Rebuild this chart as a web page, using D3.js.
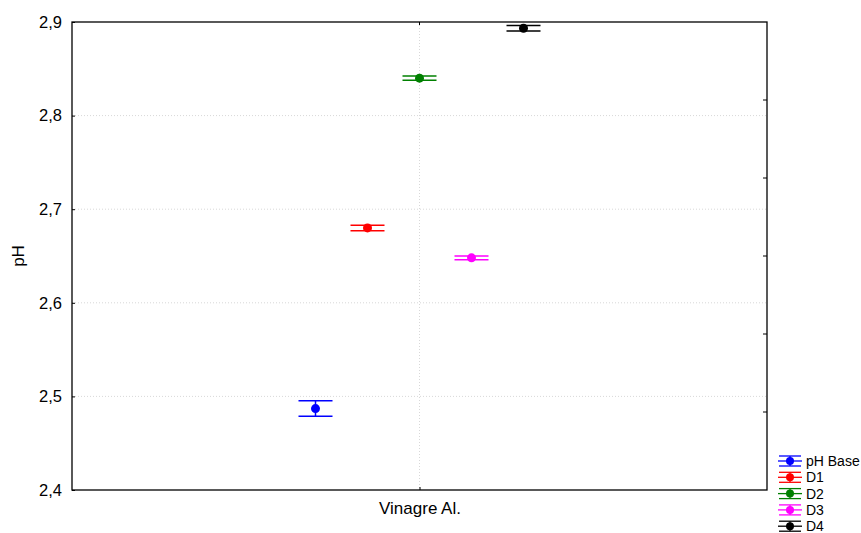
<!DOCTYPE html>
<html>
<head>
<meta charset="utf-8">
<script src="https://cdn.jsdelivr.net/npm/d3@7"></script>
<style>
  body { margin: 0; background: #fff; }
  text { font-family: Arial, "Liberation Sans", sans-serif; }
</style>
</head>
<body>
<script>
// data
var category = ["Vinagre Al."];
var series = ["pH Base", "D1", "D2", "D3", "D4"];
var means = [2.487, 2.680, 2.840, 2.648, 2.8933];
var errs = [0.0083, 0.0029, 0.0023, 0.0021, 0.0029];
var colors = ["#0000ff", "#ff0000", "#008000", "#ff00ff", "#000000"];
var yTicks = [2.4, 2.5, 2.6, 2.7, 2.8, 2.9];

var W = 861, H = 533;
var margin = {left: 72, right: 94, top: 22, bottom: 43},
    width = W - margin.left - margin.right,
    height = H - margin.top - margin.bottom;

var svg = d3.select("body").append("svg")
    .attr("width", W)
    .attr("height", H);

var g = svg.append("g")
    .attr("transform", "translate(" + margin.left + "," + margin.top + ")");

var y = d3.scaleLinear().domain([2.4, 2.9]).range([height, 0]);
var x = d3.scalePoint().domain(category).range([0, width]).padding(0.5);
var xs = d3.scaleBand().domain(series).range([-130, 130]);

var fmt = function(d) { return d3.format(".1f")(d).replace(".", ","); };

// grid
g.selectAll(".hgrid")
    .data(yTicks.slice(1, -1))
    .enter().append("line")
    .attr("x1", 0).attr("x2", width)
    .attr("y1", function(d) { return y(d); })
    .attr("y2", function(d) { return y(d); })
    .attr("stroke", "#d8d8d8")
    .attr("stroke-dasharray", "1,2");
g.append("line")
    .attr("x1", x(category[0])).attr("x2", x(category[0]))
    .attr("y1", 0).attr("y2", height)
    .attr("stroke", "#d8d8d8")
    .attr("stroke-dasharray", "1,2");

// left axis
var yAxis = g.append("g")
    .call(d3.axisLeft(y).tickValues(yTicks).tickFormat(fmt).tickSize(-3).tickPadding(10));
yAxis.select(".domain").remove();
yAxis.selectAll("text").attr("font-size", 16.5).attr("fill", "#000");

// bottom axis
var xAxis = g.append("g")
    .attr("transform", "translate(0," + height + ")")
    .call(d3.axisBottom(x).tickSize(-3).tickPadding(12));
xAxis.select(".domain").remove();
xAxis.selectAll("text").attr("font-size", 17).attr("fill", "#000");

// top tick
g.append("line")
    .attr("x1", x(category[0])).attr("x2", x(category[0]))
    .attr("y1", 0).attr("y2", 3)
    .attr("stroke", "#000");

// right axis, unlabeled inward ticks
var y2 = d3.scaleLinear().domain([0, 6]).range([height, 0]);
g.selectAll(".rtick")
    .data(d3.range(1, 6))
    .enter().append("line")
    .attr("x1", width - 4).attr("x2", width)
    .attr("y1", function(d) { return y2(d); })
    .attr("y2", function(d) { return y2(d); })
    .attr("stroke", "#000");

// frame
g.append("rect")
    .attr("width", width).attr("height", height)
    .attr("fill", "none")
    .attr("stroke", "#000")
    .attr("stroke-width", 1.3);

// y title
svg.append("text")
    .attr("transform", "translate(24," + (margin.top + height / 2) + ") rotate(-90)")
    .attr("text-anchor", "middle")
    .attr("font-size", 17)
    .text("pH");

// error bars + points
var capW = 17;
var pts = g.selectAll(".pt")
    .data(series)
    .enter().append("g")
    .attr("transform", function(d) {
        return "translate(" + (x(category[0]) + xs(d) + xs.bandwidth() / 2) + ",0)";
    });

pts.append("line")
    .attr("x1", 0).attr("x2", 0)
    .attr("y1", function(d, i) { return y(means[i] + errs[i]); })
    .attr("y2", function(d, i) { return y(means[i] - errs[i]); })
    .attr("stroke", function(d, i) { return colors[i]; })
    .attr("stroke-width", 1.5);
[1, -1].forEach(function(s) {
    pts.append("line")
        .attr("x1", -capW).attr("x2", capW)
        .attr("y1", function(d, i) { return y(means[i] + s * errs[i]); })
        .attr("y2", function(d, i) { return y(means[i] + s * errs[i]); })
        .attr("stroke", function(d, i) { return colors[i]; })
        .attr("stroke-width", 1.5);
});
pts.append("circle")
    .attr("cy", function(d, i) { return y(means[i]); })
    .attr("r", 4.5)
    .attr("fill", function(d, i) { return colors[i]; });

// legend
var leg = svg.append("g").attr("transform", "translate(790,461)");
var items = leg.selectAll(".leg")
    .data(series)
    .enter().append("g")
    .attr("transform", function(d, i) { return "translate(0," + (i * 16.3) + ")"; });
items.append("line")
    .attr("x1", -12).attr("x2", 12)
    .attr("stroke", function(d, i) { return colors[i]; })
    .attr("stroke-width", 1.3);
[-5, 5].forEach(function(o) {
    items.append("line")
        .attr("x1", -11).attr("x2", 11)
        .attr("y1", o).attr("y2", o)
        .attr("stroke", function(d, i) { return colors[i]; })
        .attr("stroke-width", 1.3);
});
items.append("line")
    .attr("y1", -5).attr("y2", 5)
    .attr("stroke", function(d, i) { return colors[i]; })
    .attr("stroke-width", 1.3);
items.append("circle")
    .attr("r", 4)
    .attr("fill", function(d, i) { return colors[i]; });
items.append("text")
    .attr("x", 16)
    .attr("dy", "0.35em")
    .attr("font-size", 14)
    .text(function(d) { return d; });
</script>
</body>
</html>
